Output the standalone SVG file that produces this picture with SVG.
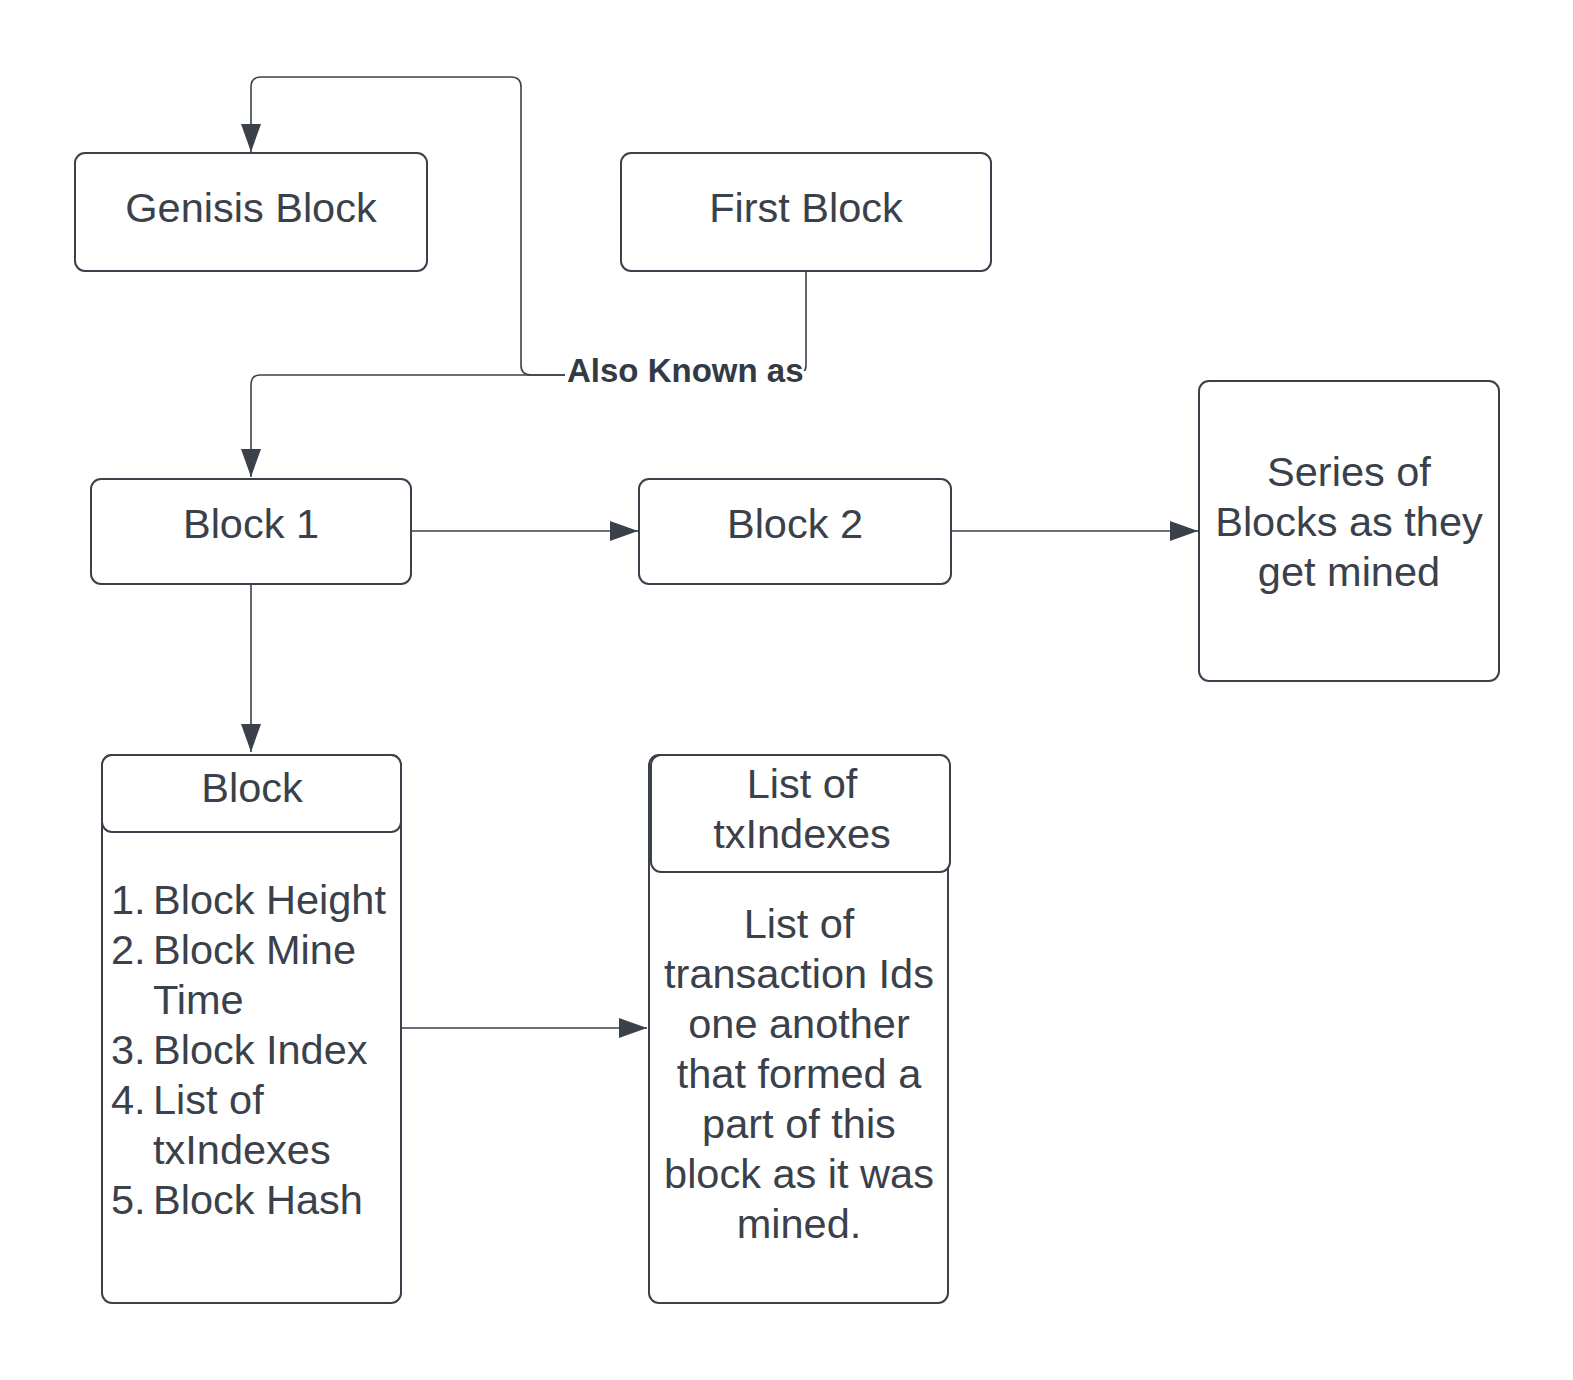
<svg xmlns="http://www.w3.org/2000/svg" width="1573" height="1380" viewBox="0 0 1573 1380">
<defs>
<style>
.box{fill:#ffffff;stroke:#3a414a;stroke-width:2}
.hdr{fill:#ffffff;stroke:#3a414a;stroke-width:2}
.con{fill:none;stroke:#3a414a;stroke-width:1.6}
.t{font-family:"Liberation Sans",Arial,sans-serif;font-size:41.5px;fill:#3a414a;text-anchor:middle}
.tl{font-family:"Liberation Sans",Arial,sans-serif;font-size:41.5px;fill:#3a414a}
.lbl{font-family:"Liberation Sans",Arial,sans-serif;font-size:33px;font-weight:bold;fill:#333a44}
</style>
<marker id="arr" markerUnits="userSpaceOnUse" markerWidth="30" markerHeight="22" refX="28" refY="10" orient="auto">
<path d="M0,0 L28,10 L0,20 z" fill="#3a414a"/>
</marker>
</defs>
<rect width="1573" height="1380" fill="#ffffff"/>

<g id="connectors">
<path class="con" d="M806,271 V365 Q806,375 796,375 H260 Q251,375 251,385 V477" marker-end="url(#arr)"/>
<path class="con" d="M567,375 H531 Q521,375 521,365 V87 Q521,77 511,77 H261 Q251,77 251,87 V152" marker-end="url(#arr)"/>
<path class="con" d="M411,531 H638" marker-end="url(#arr)"/>
<path class="con" d="M951,531 H1198" marker-end="url(#arr)"/>
<path class="con" d="M251,584 V752" marker-end="url(#arr)"/>
<path class="con" d="M401,1028 H647" marker-end="url(#arr)"/>
<rect x="565" y="371" width="244" height="20" fill="#ffffff"/>
<text class="lbl" x="567" y="382">Also Known as</text>
</g>

<g id="genisis-block">
<rect class="box" x="75" y="153" width="352" height="118" rx="10"/>
<text class="t" x="251" y="222">Genisis Block</text>
</g>

<g id="first-block">
<rect class="box" x="621" y="153" width="370" height="118" rx="10"/>
<text class="t" x="806" y="222">First Block</text>
</g>

<g id="block-1">
<rect class="box" x="91" y="479" width="320" height="105" rx="10"/>
<text class="t" x="251" y="538">Block 1</text>
</g>

<g id="block-2">
<rect class="box" x="639" y="479" width="312" height="105" rx="10"/>
<text class="t" x="795" y="538">Block 2</text>
</g>

<g id="series">
<rect class="box" x="1199" y="381" width="300" height="300" rx="10"/>
<text class="t" x="1349" y="486">Series of</text>
<text class="t" x="1349" y="536">Blocks as they</text>
<text class="t" x="1349" y="586">get mined</text>
</g>

<g id="block">
<rect class="box" x="102" y="755" width="299" height="548" rx="10"/>
<rect class="hdr" x="102" y="755" width="299" height="77" rx="10"/>
<text class="t" x="252" y="802">Block</text>
<text class="tl" x="111" y="914">1.</text><text class="tl" x="153" y="914">Block Height</text>
<text class="tl" x="111" y="964">2.</text><text class="tl" x="153" y="964">Block Mine</text>
<text class="tl" x="153" y="1014">Time</text>
<text class="tl" x="111" y="1064">3.</text><text class="tl" x="153" y="1064">Block Index</text>
<text class="tl" x="111" y="1114">4.</text><text class="tl" x="153" y="1114">List of</text>
<text class="tl" x="153" y="1164">txIndexes</text>
<text class="tl" x="111" y="1214">5.</text><text class="tl" x="153" y="1214">Block Hash</text>
</g>

<g id="list-of-txindexes">
<rect class="box" x="649" y="755" width="299" height="548" rx="10"/>
<rect class="hdr" x="651" y="755" width="299" height="117" rx="10"/>
<text class="t" x="802" y="798">List of</text>
<text class="t" x="802" y="848">txIndexes</text>
<text class="t" x="799" y="938">List of</text>
<text class="t" x="799" y="988">transaction Ids</text>
<text class="t" x="799" y="1038">one another</text>
<text class="t" x="799" y="1088">that formed a</text>
<text class="t" x="799" y="1138">part of this</text>
<text class="t" x="799" y="1188">block as it was</text>
<text class="t" x="799" y="1238">mined.</text>
</g>
</svg>
